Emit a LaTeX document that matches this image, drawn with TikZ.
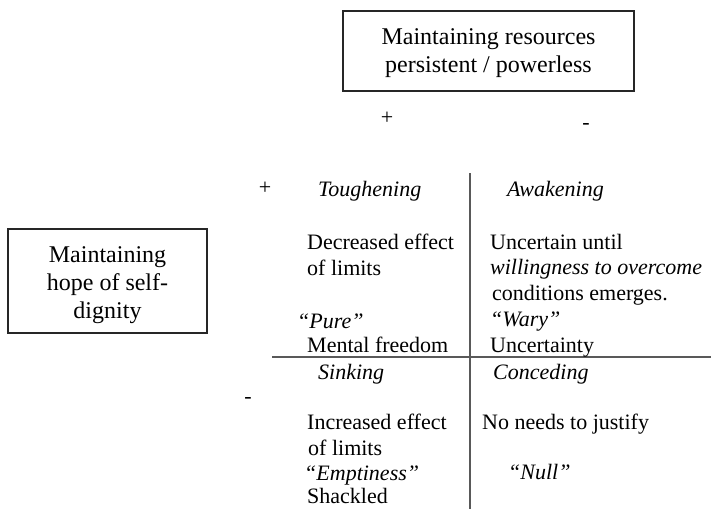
\documentclass[tikz,border=0pt]{standalone}
\usepackage{fontspec}
\setmainfont{Liberation Serif}
\begin{document}
\begin{tikzpicture}[x=1pt,y=-1pt,
  txt/.style={anchor=base west, inner sep=0pt, font=\fontsize{22}{26}\selectfont},
  itx/.style={anchor=base west, inner sep=0pt, font=\fontsize{22}{26}\selectfont\itshape},
  sgn/.style={anchor=base, inner sep=0pt, font=\fontsize{22}{26}\selectfont},
  boxstyle/.style={draw=black!85, line width=1.1pt, inner sep=0pt},
  boxtext/.style={align=center, inner sep=0pt, font=\fontsize{24}{28}\selectfont},
  rule/.style={draw=black!65, line width=1.3pt}]
\useasboundingbox (0,0) rectangle (711,509);
% boxes
\node[boxstyle, minimum width=291pt, minimum height=80pt] (res) at (488.5,51) {};
\node[boxtext] (restxt) at ([yshift=-2pt]res.center)
  {Maintaining resources\\persistent / powerless};
\node[boxstyle, minimum width=199pt, minimum height=104pt] (hope) at (107.5,281) {};
\node[boxtext] (hopetxt) at ([yshift=-4pt]hope.center)
  {Maintaining\\hope of self-\\dignity};
% signs
\node[sgn] (tplus) at (387,124) {+};
\node[sgn] (tminus) at (586,129) {-};
\node[sgn] (lplus) at (265,194.5) {+};
\node[sgn] (lminus) at (248,403) {-};
% axes
\coordinate (vtop) at (470,173);
\coordinate (vbot) at (470,509);
\coordinate (hl) at (272,357);
\coordinate (hr) at (711,357);
\draw[rule] (vtop) -- (vbot);
\draw[rule] (hl) -- (hr);
% top-left
\node[itx] (tough) at (318,196) {Toughening};
\node[txt] (dec1) at (307,249) {Decreased effect};
\node[txt] (dec2) at (307,275) {of limits};
\node[itx] (pure) at (297,328) {“Pure”};
\node[txt] (mental) at (307,352) {Mental freedom};
% top-right
\node[itx] (awak) at (507,196) {Awakening};
\node[txt] (unc1) at (490,249) {Uncertain until};
\node[itx] (unc2) at (490,274.5) {willingness to overcome};
\node[txt] (unc3) at (492,300) {conditions emerges.};
\node[itx] (wary) at (490,326) {“Wary”};
\node[txt] (uncy) at (490,352) {Uncertainty};
% bottom-left
\node[itx] (sink) at (318,379) {Sinking};
\node[txt] (inc1) at (307,429) {Increased effect};
\node[txt] (inc2) at (308,455) {of limits};
\node[itx] (empt) at (304,480) {“Emptiness”};
\node[txt] (shack) at (307,503) {Shackled};
% bottom-right
\node[itx] (conc) at (493,379) {Conceding};
\node[txt] (noneed) at (482,429) {No needs to justify};
\node[itx] (null) at (508,479) {“Null”};
\end{tikzpicture}
\end{document}
